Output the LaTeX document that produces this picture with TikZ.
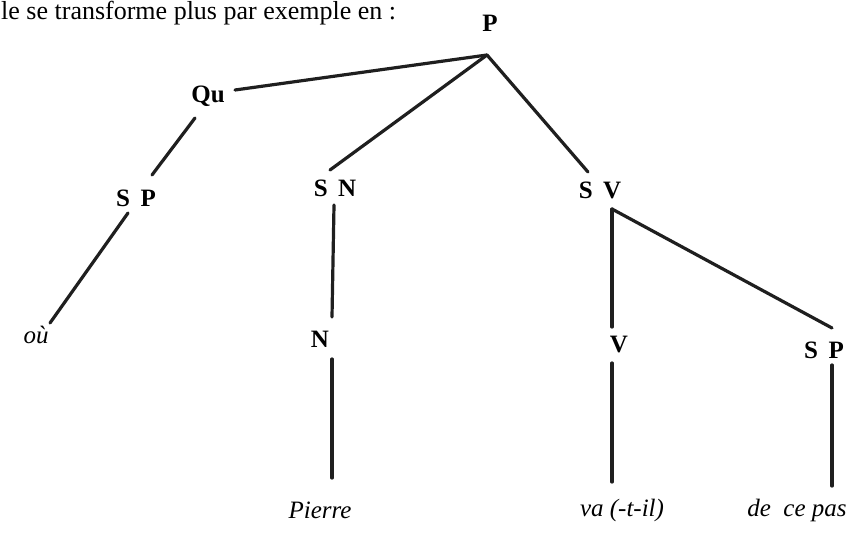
\documentclass[tikz,border=0pt]{standalone}
\usepackage{fontspec}
\setmainfont{Liberation Serif}
\begin{document}
\begin{tikzpicture}[x=1pt,y=-1pt,
  lab/.style={font=\fontsize{25}{29}\selectfont\bfseries, inner sep=0pt},
  word/.style={font=\fontsize{25}{29}\selectfont\itshape, inner sep=0pt},
  edge/.style={line width=3.2pt, color=black!88, line cap=round}]
\useasboundingbox (0,0) rectangle (851,535);
% header
\node[font=\fontsize{26}{30}\selectfont, anchor=base west, inner sep=0pt] (head) at (1,20) {le se transforme plus par exemple en :};
% labels
\node[lab] (P) at (490,23) {P};
\node[lab] (Qu) at (208,96) {Qu};
\node[lab] (SPl) at (136,198) {S\ \,P};
\node[lab] (SN) at (335,188) {S\ \,N};
\node[lab] (SV) at (600,190) {S\ \,V};
\node[lab] (N) at (320,339) {N};
\node[lab] (V) at (619,345) {V};
\node[lab] (SPr) at (824,350) {S\ \,P};
\node[word] (ou) at (36,335) {où};
\node[word] (Pierre) at (320,510) {Pierre};
\node[word] (va) at (622,510) {va (-t-il)};
\node[word] (dcp) at (797,510) {de\ \ ce pas};
% connector end points
\coordinate (P-b) at (487,55);
\coordinate (Qu-r) at (235,90);
\coordinate (Qu-b) at (195,118);
\coordinate (SPl-t) at (152,175);
\coordinate (SPl-b) at (128,213);
\coordinate (ou-t) at (50,323);
\coordinate (SN-t) at (330,170);
\coordinate (SN-b) at (334,205);
\coordinate (N-t) at (332,317);
\coordinate (N-b) at (332,359);
\coordinate (Pierre-t) at (332,478);
\coordinate (SV-t) at (588,172);
\coordinate (SV-b) at (612,209);
\coordinate (V-t) at (612,327);
\coordinate (V-b) at (612,363);
\coordinate (va-t) at (612,482);
\coordinate (SPr-t) at (832,328);
\coordinate (SPr-b) at (832,365);
\coordinate (dcp-t) at (832,486);
% connectors
\draw[edge] (P-b) -- (Qu-r);
\draw[edge] (P-b) -- (SN-t);
\draw[edge] (P-b) -- (SV-t);
\draw[edge] (Qu-b) -- (SPl-t);
\draw[edge] (SPl-b) -- (ou-t);
\draw[edge] (SN-b) -- (N-t);
\draw[edge] (N-b) -- (Pierre-t);
\draw[edge] (SV-b) -- (V-t);
\draw[edge] (SV-b) -- (SPr-t);
\draw[edge] (V-b) -- (va-t);
\draw[edge] (SPr-b) -- (dcp-t);
\end{tikzpicture}
\end{document}
